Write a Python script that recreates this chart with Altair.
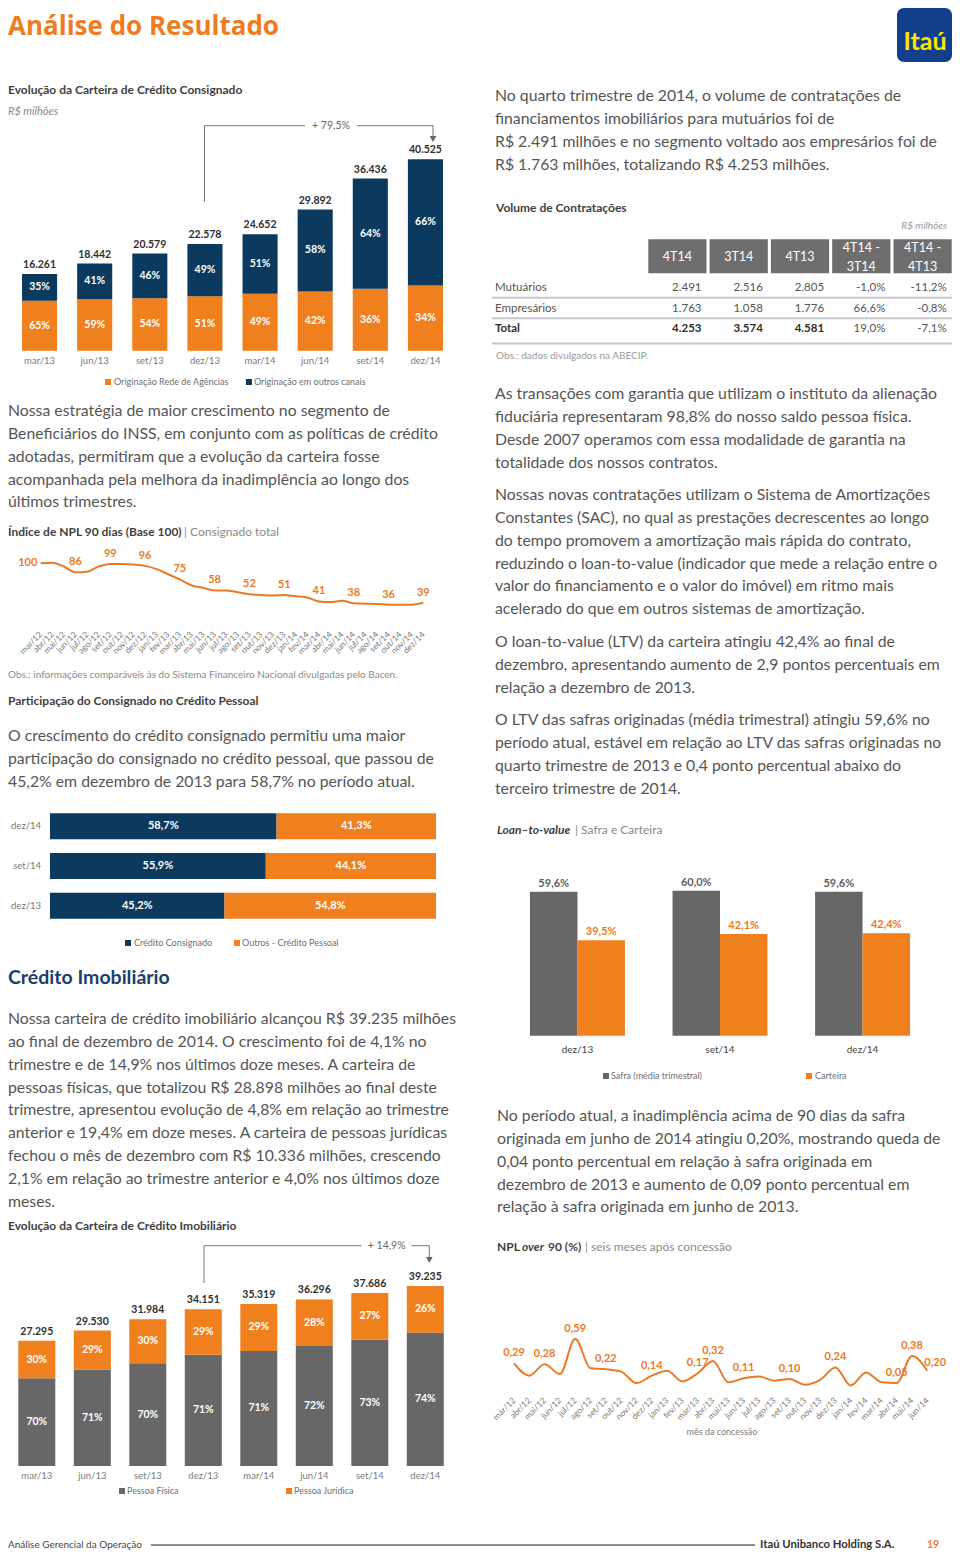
import altair as alt
import pandas as pd

# ------------------------------------------------------------------ data
cons_months = ["mar/13", "jun/13", "set/13", "dez/13", "mar/14", "jun/14", "set/14", "dez/14"]
cons_total = [16261, 18442, 20579, 22578, 24652, 29892, 36436, 40525]
cons_agencias_pct = [65, 59, 54, 51, 49, 42, 36, 34]
cons_outros_pct = [35, 41, 46, 49, 51, 58, 64, 66]
cons_growth = "+ 79,5%"

npl_months = ["mar/12", "abr/12", "mai/12", "jun/12", "jul/12", "ago/12", "set/12", "out/12",
              "nov/12", "dez/12", "jan/13", "fev/13", "mar/13", "abr/13", "mai/13", "jun/13",
              "jul/13", "ago/13", "set/13", "out/13", "nov/13", "dez/13", "jan/14", "fev/14",
              "mar/14", "abr/14", "mai/14", "jun/14", "jul/14", "ago/14", "set/14", "out/14",
              "nov/14", "dez/14"]
npl_index = [100, 101, 95, 86, 87, 95, 99, 99, 98, 96, 91, 83, 75, 66, 62, 58, 58, 55, 52, 51,
             50, 51, 49, 47, 41, 40, 42, 38, 37.5, 37, 36, 36, 36, 39]

part_periods = ["dez/14", "set/14", "dez/13"]
part_consignado = [58.7, 55.9, 45.2]
part_outros = [41.3, 44.1, 54.8]

imob_months = cons_months
imob_total = [27295, 29530, 31984, 34151, 35319, 36296, 37686, 39235]
imob_pf_pct = [70, 71, 70, 71, 71, 72, 73, 74]
imob_pj_pct = [30, 29, 30, 29, 29, 28, 27, 26]
imob_growth = "+ 14,9%"

vol_cols = ["4T14", "3T14", "4T13", "4T14 - 3T14", "4T14 - 4T13"]
vol_rows = ["Mutuários", "Empresários", "Total"]
vol_mutuarios = ["2.491", "2.516", "2.805", "-1,0%", "-11,2%"]
vol_empresarios = ["1.763", "1.058", "1.776", "66,6%", "-0,8%"]
vol_total = ["4.253", "3.574", "4.581", "19,0%", "-7,1%"]

ltv_periods = ["dez/13", "set/14", "dez/14"]
ltv_safra = [59.6, 60.0, 59.6]
ltv_carteira = [39.5, 42.1, 42.4]

npl90_months = npl_months[:28]
npl90_values = [0.29, 0.14, 0.28, 0.16, 0.59, 0.23, 0.22, 0.19, 0.05, 0.14, 0.20, 0.07, 0.17, 0.32,
                0.06, 0.11, 0.13, 0.08, 0.10, 0.03, 0.09, 0.24, 0.02, 0.18, 0.06, 0.05, 0.38, 0.20]
npl90_label_months = ["mar/12", "mai/12", "jul/12", "set/12", "dez/12", "mar/13", "abr/13",
                      "jun/13", "set/13", "dez/13", "abr/14", "mai/14", "jun/14"]

# ------------------------------------------------------------------ text
para_consig = [
    "Nossa estratégia de maior crescimento no segmento de",
    "Beneficiários do INSS, em conjunto com as políticas de crédito",
    "adotadas, permitiram que a evolução da carteira fosse",
    "acompanhada pela melhora da inadimplência ao longo dos",
    "últimos trimestres.",
]
para_part = [
    "O crescimento do crédito consignado permitiu uma maior",
    "participação do consignado no crédito pessoal, que passou de",
    "45,2% em dezembro de 2013 para 58,7% no período atual.",
]
para_imob = [
    "Nossa carteira de crédito imobiliário alcançou R$ 39.235 milhões",
    "ao final de dezembro de 2014. O crescimento foi de 4,1% no",
    "trimestre e de 14,9% nos últimos doze meses. A carteira de",
    "pessoas físicas, que totalizou R$ 28.898 milhões ao final deste",
    "trimestre, apresentou evolução de 4,8% em relação ao trimestre",
    "anterior e 19,4% em doze meses. A carteira de pessoas jurídicas",
    "fechou o mês de dezembro com R$ 10.336 milhões, crescendo",
    "2,1% em relação ao trimestre anterior e 4,0% nos últimos doze",
    "meses.",
]
para_r1 = [
    "No quarto trimestre de 2014, o volume de contratações de",
    "financiamentos imobiliários para mutuários foi de",
    "R$ 2.491 milhões e no segmento voltado aos empresários foi de",
    "R$ 1.763 milhões, totalizando R$ 4.253 milhões.",
]
para_r2 = [
    "As transações com garantia que utilizam o instituto da alienação",
    "fiduciária representaram 98,8% do nosso saldo pessoa física.",
    "Desde 2007 operamos com essa modalidade de garantia na",
    "totalidade dos nossos contratos.",
]
para_r3 = [
    "Nossas novas contratações utilizam o Sistema de Amortizações",
    "Constantes (SAC), no qual as prestações decrescentes ao longo",
    "do tempo promovem a amortização mais rápida do contrato,",
    "reduzindo o loan-to-value (indicador que mede a relação entre o",
    "valor do financiamento e o valor do imóvel) em ritmo mais",
    "acelerado do que em outros sistemas de amortização.",
]
para_r4 = [
    "O loan-to-value (LTV) da carteira atingiu 42,4% ao final de",
    "dezembro, apresentando aumento de 2,9 pontos percentuais em",
    "relação a dezembro de 2013.",
]
para_r5 = [
    "O LTV das safras originadas (média trimestral) atingiu 59,6% no",
    "período atual, estável em relação ao LTV das safras originadas no",
    "quarto trimestre de 2013 e 0,4 ponto percentual abaixo do",
    "terceiro trimestre de 2014.",
]
para_r6 = [
    "No período atual, a inadimplência acima de 90 dias da safra",
    "originada em junho de 2014 atingiu 0,20%, mostrando queda de",
    "0,04 ponto percentual em relação à safra originada em",
    "dezembro de 2013 e aumento de 0,09 ponto percentual em",
    "relação à safra originada em junho de 2013.",
]

# ------------------------------------------------------------------ style
FONT = "Lato"
ORANGE = "#F07F1D"
ORANGE_T = "#EA7A26"
NAVY = "#0B3A5E"
GRAYBAR = "#676767"
BODY = "#555555"
HEAD = "#3f3f3f"
DARK = "#2f2f2f"
BODY_SIZE = 15.8


def px(v):
    return v - 8


ONE = pd.DataFrame({"k": [0]})
layers = []


def T(s, x, y, size=12, color=HEAD, weight="normal", style="normal", align="left", font=FONT):
    layers.append(
        alt.Chart(ONE).mark_text(text=s, font=font, fontSize=size, fontWeight=weight,
                                 fontStyle=style, align=align, baseline="middle", color=color)
        .encode(x=alt.value(px(x)), y=alt.value(px(y)))
    )


def P(lines, x, y0, lh=22.85, size=BODY_SIZE, color=BODY):
    df = pd.DataFrame({"t": lines, "i": list(range(len(lines)))})
    layers.append(
        alt.Chart(df).transform_calculate(yy=f"{px(y0)} + datum.i * {lh}")
        .mark_text(font=FONT, fontSize=size, align="left", baseline="middle", color=color)
        .encode(x=alt.value(px(x)), y=alt.Y("yy:Q", scale=None, axis=None), text="t:N")
    )


def H(x1, x2, y, color="#777777", w=1.0):
    layers.append(alt.Chart(ONE).mark_rule(color=color, strokeWidth=w)
                  .encode(x=alt.value(px(x1)), x2=alt.value(px(x2)), y=alt.value(px(y))))


def V(x, y1, y2, color="#777777", w=1.0):
    layers.append(alt.Chart(ONE).mark_rule(color=color, strokeWidth=w)
                  .encode(x=alt.value(px(x)), y=alt.value(px(y1)), y2=alt.value(px(y2))))


def SQ(x, y, color):
    layers.append(alt.Chart(ONE).mark_square(size=36, color=color, opacity=1, filled=True)
                  .encode(x=alt.value(px(x)), y=alt.value(px(y))))


def ARROW(x, y):
    layers.append(alt.Chart(ONE).mark_point(shape="triangle-down", size=45, color="#666666",
                                            filled=True, opacity=1)
                  .encode(x=alt.value(px(x)), y=alt.value(px(y))))


def pt(v, dec=1):
    return f"{v:.{dec}f}".replace(".", ",")


def thousands(v):
    return f"{v:,}".replace(",", ".")


# ------------------------------------------------------------------ header
T("Análise do Resultado", 8, 26.5, size=26, color="#EE7D21", weight="bold", font="Open Sans")
layers.append(alt.Chart(ONE).mark_rect(color="#123F8C", cornerRadius=7)
              .encode(x=alt.value(px(897)), x2=alt.value(px(952)),
                      y=alt.value(px(8)), y2=alt.value(px(62))))
T("Itaú", 925, 42, size=25, color="#FFE600", weight="bold", align="center")


# ------------------------------------------------------------------ stacked bar helper
def stacked(months, totals, low_pct, high_pct, low_color, high_color, x0, x1, pi, ybot, ytop,
            lab_size=10.5):
    d = pd.DataFrame({"m": months, "total": totals, "pl": low_pct, "ph": high_pct})
    d["zero"] = 0
    d["low"] = d["total"] * d["pl"] / 100
    d["yl"] = d["low"] / 2
    d["yh"] = (d["low"] + d["total"]) / 2
    d["lt"] = [thousands(v) for v in totals]
    d["ll"] = [f"{v}%" for v in low_pct]
    d["lh"] = [f"{v}%" for v in high_pct]
    xs = alt.Scale(type="band", domain=months, range=[px(x0), px(x1)],
                   paddingInner=pi, paddingOuter=pi / 2)
    ys = alt.Scale(type="linear", domain=[0, max(totals)], range=[px(ybot), px(ytop)],
                   nice=False, zero=True)
    Xb = alt.X("m:N", scale=xs, axis=None)
    Xc = alt.X("m:N", scale=xs, axis=None, bandPosition=0.5)
    b = alt.Chart(d)
    return alt.layer(
        b.mark_bar(color=low_color).encode(x=Xb, y=alt.Y("low:Q", scale=ys, axis=None),
                                            y2=alt.Y2("zero")),
        b.mark_bar(color=high_color).encode(x=Xb, y=alt.Y("total:Q", scale=ys, axis=None),
                                             y2=alt.Y2("low")),
        b.mark_text(color="white", font=FONT, fontWeight="bold", fontSize=lab_size)
        .encode(x=Xc, y=alt.Y("yl:Q", scale=ys, axis=None), text="ll:N"),
        b.mark_text(color="white", font=FONT, fontWeight="bold", fontSize=lab_size)
        .encode(x=Xc, y=alt.Y("yh:Q", scale=ys, axis=None), text="lh:N"),
        b.mark_text(color=DARK, font=FONT, fontWeight="bold", fontSize=lab_size, dy=-9)
        .encode(x=Xc, y=alt.Y("total:Q", scale=ys, axis=None), text="lt:N"),
        b.mark_text(color="#7a7a7a", font=FONT, fontSize=9.5)
        .encode(x=Xc, y=alt.value(px(ybot + 10)), text="m:N"),
    )


# ------------------------------------------------------------------ left column
T("Evolução da Carteira de Crédito Consignado", 8, 90, size=12, weight="bold")
T("R$ milhões", 8, 112, size=11, color="#8a8a8a", style="italic")
layers.append(stacked(cons_months, cons_total, cons_agencias_pct, cons_outros_pct,
                      ORANGE, NAVY, 12, 453, 0.3636, 350.7, 159.3))
V(204.5, 201.7, 125.7)
H(204.5, 305, 125.7)
H(357, 433, 125.7)
V(433, 125.7, 136)
ARROW(433, 139)
T(cons_growth, 331, 125.7, size=10.5, color="#666666", align="center")
SQ(108, 382, ORANGE)
T("Originação Rede de Agências", 114, 382, size=9, color="#6f6f6f")
SQ(249, 382, NAVY)
T("Originação em outros canais", 254, 382, size=9, color="#6f6f6f")

P(para_consig, 8, 411)

T("Índice de NPL 90 dias (Base 100)", 8, 532, size=12, weight="bold")
T("| Consignado total", 184, 532, size=12, color="#8a8a8a")

dn = pd.DataFrame({"m": npl_months, "v": npl_index})
dn["lab"] = [f"{v:g}" for v in npl_index]
dn["q"] = [m[:3] in ("mar", "jun", "set", "dez") for m in npl_months]
xsn = alt.Scale(type="point", domain=npl_months, range=[px(40.7), px(423.3)], padding=0)
ysn = alt.Scale(type="linear", domain=[30, 100], range=[px(608.5), px(563.3)], nice=False, zero=False)
Xn = alt.X("m:N", scale=xsn, axis=None)
Yn = alt.Y("v:Q", scale=ysn, axis=None)
bn = alt.Chart(dn)
layers.append(alt.layer(
    bn.mark_line(color=ORANGE_T, strokeWidth=2, interpolate="monotone").encode(x=Xn, y=Yn),
    bn.transform_filter("datum.q && datum.m != 'mar/12'")
    .mark_text(color=ORANGE_T, font=FONT, fontWeight="bold", fontSize=11, dy=-10)
    .encode(x=Xn, y=Yn, text="lab:N"),
    bn.transform_filter("datum.m == 'mar/12'")
    .mark_text(color=ORANGE_T, font=FONT, fontWeight="bold", fontSize=11, dx=-13)
    .encode(x=Xn, y=Yn, text="lab:N"),
    bn.mark_text(color="#7a7a7a", font=FONT, fontSize=8.5, angle=315, align="right",
                 baseline="middle")
    .encode(x=Xn, y=alt.value(px(633)), text="m:N"),
))
T("Obs.: informações comparáveis às do Sistema Financeiro Nacional divulgadas pelo Bacen.",
  8, 675, size=10, color="#8a8a8a")

T("Participação do Consignado no Crédito Pessoal", 8, 701, size=12, weight="bold")
P(para_part, 8, 736)

dp = pd.DataFrame({"p": part_periods, "c": part_consignado, "o": part_outros})
dp["zero"] = 0
dp["end"] = dp["c"] + dp["o"]
dp["xc"] = dp["c"] / 2
dp["xo"] = dp["c"] + dp["o"] / 2
dp["lc"] = [pt(v) + "%" for v in part_consignado]
dp["lo"] = [pt(v) + "%" for v in part_outros]
ysp = alt.Scale(type="band", domain=part_periods, range=[px(806.5), px(925.6)],
                paddingInner=0.345, paddingOuter=0.1725)
xsp = alt.Scale(type="linear", domain=[0, 100], range=[px(50), px(436)], nice=False, zero=True)
Yp = alt.Y("p:N", scale=ysp, axis=None)
Ypc = alt.Y("p:N", scale=ysp, axis=None, bandPosition=0.5)
bp = alt.Chart(dp)
layers.append(alt.layer(
    bp.mark_bar(color=NAVY).encode(y=Yp, x=alt.X("c:Q", scale=xsp, axis=None), x2=alt.X2("zero")),
    bp.mark_bar(color=ORANGE).encode(y=Yp, x=alt.X("end:Q", scale=xsp, axis=None), x2=alt.X2("c")),
    bp.mark_text(color="white", font=FONT, fontWeight="bold", fontSize=11)
    .encode(y=Ypc, x=alt.X("xc:Q", scale=xsp, axis=None), text="lc:N"),
    bp.mark_text(color="white", font=FONT, fontWeight="bold", fontSize=11)
    .encode(y=Ypc, x=alt.X("xo:Q", scale=xsp, axis=None), text="lo:N"),
    bp.mark_text(color="#7a7a7a", font=FONT, fontSize=9.5, align="right")
    .encode(y=Ypc, x=alt.value(px(41)), text="p:N"),
))
SQ(128, 943, NAVY)
T("Crédito Consignado", 134, 943, size=9, color="#6f6f6f")
SQ(237, 943, ORANGE)
T("Outros - Crédito Pessoal", 242, 943, size=9, color="#6f6f6f")

T("Crédito Imobiliário", 8, 978, size=19.5, color="#1B3F6B", weight="bold")
P(para_imob, 8, 1019)
T("Evolução da Carteira de Crédito Imobiliário", 8, 1226, size=12, weight="bold")
layers.append(stacked(imob_months, imob_total, imob_pf_pct, imob_pj_pct,
                      GRAYBAR, ORANGE, 9.05, 453.05, 0.3333, 1466, 1286))
V(204, 1283, 1245.7)
H(204, 361.7, 1245.7)
H(411.7, 429.3, 1245.7)
V(429.3, 1245.7, 1257)
ARROW(429.3, 1260)
T(imob_growth, 386.7, 1245.7, size=10.5, color="#666666", align="center")
SQ(122, 1491, GRAYBAR)
T("Pessoa Física", 127, 1491, size=9, color="#6f6f6f")
SQ(289, 1491, ORANGE)
T("Pessoa Jurídica", 294, 1491, size=9, color="#6f6f6f")

# ------------------------------------------------------------------ right column
P(para_r1, 495, 96)
T("Volume de Contratações", 496, 208, size=12, weight="bold")
T("R$ milhões", 947, 226, size=10, color="#9a9a9a", style="italic", align="right")

xst = alt.Scale(type="band", domain=vol_cols, range=[px(648.3), px(951.7)],
                paddingInner=0.05, paddingOuter=0)
yst = alt.Scale(type="point", domain=vol_rows, range=[px(288.3), px(329)], padding=0)
hdr = []
for c in vol_cols:
    parts = c.split(" - ")
    if len(parts) == 1:
        hdr.append({"c": c, "t": c, "yy": px(256.5)})
    else:
        hdr.append({"c": c, "t": parts[0] + " -", "yy": px(247.5)})
        hdr.append({"c": c, "t": parts[1], "yy": px(267)})
dh = pd.DataFrame(hdr)
cells = []
for r, vals in zip(vol_rows, [vol_mutuarios, vol_empresarios, vol_total]):
    for i, (c, v) in enumerate(zip(vol_cols, vals)):
        cells.append({"r": r, "c": c, "v": v, "b": (r == "Total" and i < 3)})
dv = pd.DataFrame(cells)
dr = pd.DataFrame({"r": vol_rows})
Xt = alt.X("c:N", scale=xst, axis=None)
Xtc = alt.X("c:N", scale=xst, axis=None, bandPosition=0.5)
Xtr = alt.X("c:N", scale=xst, axis=None, bandPosition=1)
Yt = alt.Y("r:N", scale=yst, axis=None)
layers.append(alt.layer(
    alt.Chart(pd.DataFrame({"c": vol_cols})).mark_rect(color="#6E6E6E")
    .encode(x=Xt, y=alt.value(px(239.3)), y2=alt.value(px(273.3))),
    alt.Chart(dh).mark_text(color="white", font=FONT, fontSize=12.5)
    .encode(x=Xtc, y=alt.Y("yy:Q", scale=None, axis=None), text="t:N"),
    alt.Chart(dv).transform_filter("!datum.b")
    .mark_text(color="#555555", font=FONT, fontSize=11.5, align="right", dx=-5)
    .encode(x=Xtr, y=Yt, text="v:N"),
    alt.Chart(dv).transform_filter("datum.b")
    .mark_text(color=DARK, font=FONT, fontSize=11.5, fontWeight="bold", align="right", dx=-5)
    .encode(x=Xtr, y=Yt, text="v:N"),
    alt.Chart(dr).transform_filter("datum.r != 'Total'")
    .mark_text(color="#555555", font=FONT, fontSize=11.5, align="left")
    .encode(x=alt.value(px(495)), y=Yt, text="r:N"),
    alt.Chart(dr).transform_filter("datum.r == 'Total'")
    .mark_text(color=DARK, font=FONT, fontSize=11.5, fontWeight="bold", align="left")
    .encode(x=alt.value(px(495)), y=Yt, text="r:N"),
))
H(492, 952, 297.8, "#C8C8C8", 2)
H(492, 952, 318.2, "#C8C8C8", 2)
H(492, 952, 343.5, "#C8C8C8", 2)
T("Obs.: dados divulgados na ABECIP.", 496, 356, size=10, color="#9a9a9a")

P(para_r2, 495, 394)
P(para_r3, 495, 495)
P(para_r4, 495, 642)
P(para_r5, 495, 720)

T("Loan–to-value", 497, 830, size=12, weight="bold", style="italic")
T("| Safra e Carteira", 575, 830, size=12, color="#8a8a8a")

dl = pd.DataFrame({"p": ltv_periods * 2, "s": ["Safra"] * 3 + ["Carteira"] * 3,
                   "v": ltv_safra + ltv_carteira})
dl["zero"] = 0
dl["lab"] = [pt(v) + "%" for v in dl["v"]]
xsl = alt.Scale(type="band", domain=ltv_periods, range=[px(530), px(910)],
                paddingInner=0.334, paddingOuter=0)
ysl = alt.Scale(type="linear", domain=[0, 60], range=[px(1035.7), px(890.7)], nice=False, zero=True)
Xl = alt.X("p:N", scale=xsl, axis=None)
Yl = alt.Y("v:Q", scale=ysl, axis=None)
bl = alt.Chart(dl)
layers.append(alt.layer(
    bl.mark_bar().encode(
        x=Xl, y=Yl, y2=alt.Y2("zero"),
        xOffset=alt.XOffset("s:N", scale=alt.Scale(domain=["Safra", "Carteira"])),
        color=alt.Color("s:N", scale=alt.Scale(domain=["Safra", "Carteira"],
                                               range=[GRAYBAR, ORANGE]), legend=None)),
    bl.transform_filter("datum.s == 'Safra'")
    .mark_text(color="#5e5e5e", font=FONT, fontWeight="bold", fontSize=11, dy=-8)
    .encode(x=alt.X("p:N", scale=xsl, axis=None, bandPosition=0.25), y=Yl, text="lab:N"),
    bl.transform_filter("datum.s == 'Carteira'")
    .mark_text(color=ORANGE_T, font=FONT, fontWeight="bold", fontSize=11, dy=-8)
    .encode(x=alt.X("p:N", scale=xsl, axis=None, bandPosition=0.75), y=Yl, text="lab:N"),
    alt.Chart(pd.DataFrame({"p": ltv_periods}))
    .mark_text(color="#444444", font=FONT, fontSize=10)
    .encode(x=alt.X("p:N", scale=xsl, axis=None, bandPosition=0.5),
            y=alt.value(px(1050)), text="p:N"),
))
SQ(606, 1076, GRAYBAR)
T("Safra (média trimestral)", 611, 1076, size=9, color="#6f6f6f")
SQ(809, 1076, ORANGE)
T("Carteira", 815, 1076, size=9, color="#6f6f6f")

P(para_r6, 497, 1116)

T("NPL", 497, 1247, size=12, weight="bold")
T("over", 522, 1247, size=12, weight="bold", style="italic")
T("90 (%)", 548, 1247, size=12, weight="bold")
T("| seis meses após concessão", 585, 1247, size=12, color="#8a8a8a")

d9 = pd.DataFrame({"m": npl90_months, "v": npl90_values})
d9["lab"] = [pt(v, 2) for v in npl90_values]
d9["show"] = [m in npl90_label_months for m in npl90_months]
xs9 = alt.Scale(type="point", domain=npl90_months, range=[px(514), px(927.3)], padding=0)
ys9 = alt.Scale(type="linear", domain=[0, 0.6], range=[px(1387.2), px(1337.9)], nice=False, zero=True)
X9 = alt.X("m:N", scale=xs9, axis=None)
Y9 = alt.Y("v:Q", scale=ys9, axis=None)
b9 = alt.Chart(d9)
layers.append(alt.layer(
    b9.mark_line(color=ORANGE_T, strokeWidth=2, interpolate="monotone").encode(x=X9, y=Y9),
    b9.transform_filter("datum.show && datum.m != 'jun/14'")
    .mark_text(color=ORANGE_T, font=FONT, fontWeight="bold", fontSize=11, dy=-10)
    .encode(x=X9, y=Y9, text="lab:N"),
    b9.transform_filter("datum.m == 'jun/14'")
    .mark_text(color=ORANGE_T, font=FONT, fontWeight="bold", fontSize=11, dx=-3, dy=-8,
               align="left")
    .encode(x=X9, y=Y9, text="lab:N"),
    b9.mark_text(color="#7a7a7a", font=FONT, fontSize=8.5, angle=315, align="right",
                 baseline="middle")
    .encode(x=X9, y=alt.value(px(1399)), text="m:N"),
))
T("mês da concessão", 722, 1432, size=9, color="#7a7a7a", align="center")

# ------------------------------------------------------------------ footer
T("Análise Gerencial da Operação", 8, 1545, size=10, color="#444444")
H(151, 755, 1545, "#6a6a6a", 1.3)
T("Itaú Unibanco Holding S.A.", 760, 1545, size=11.3, color="#333333", weight="bold")
T("19", 927, 1545, size=10.5, color="#EE7D21", weight="bold")

chart = (
    alt.layer(*layers)
    .resolve_scale(x="independent", y="independent", color="independent")
    .properties(width=944, height=1542, padding=0,
                autosize=alt.AutoSizeParams(type="none"))
    .configure_view(strokeWidth=0)
)
chart.save("out.html", embed_options={"renderer": "svg", "actions": False})
